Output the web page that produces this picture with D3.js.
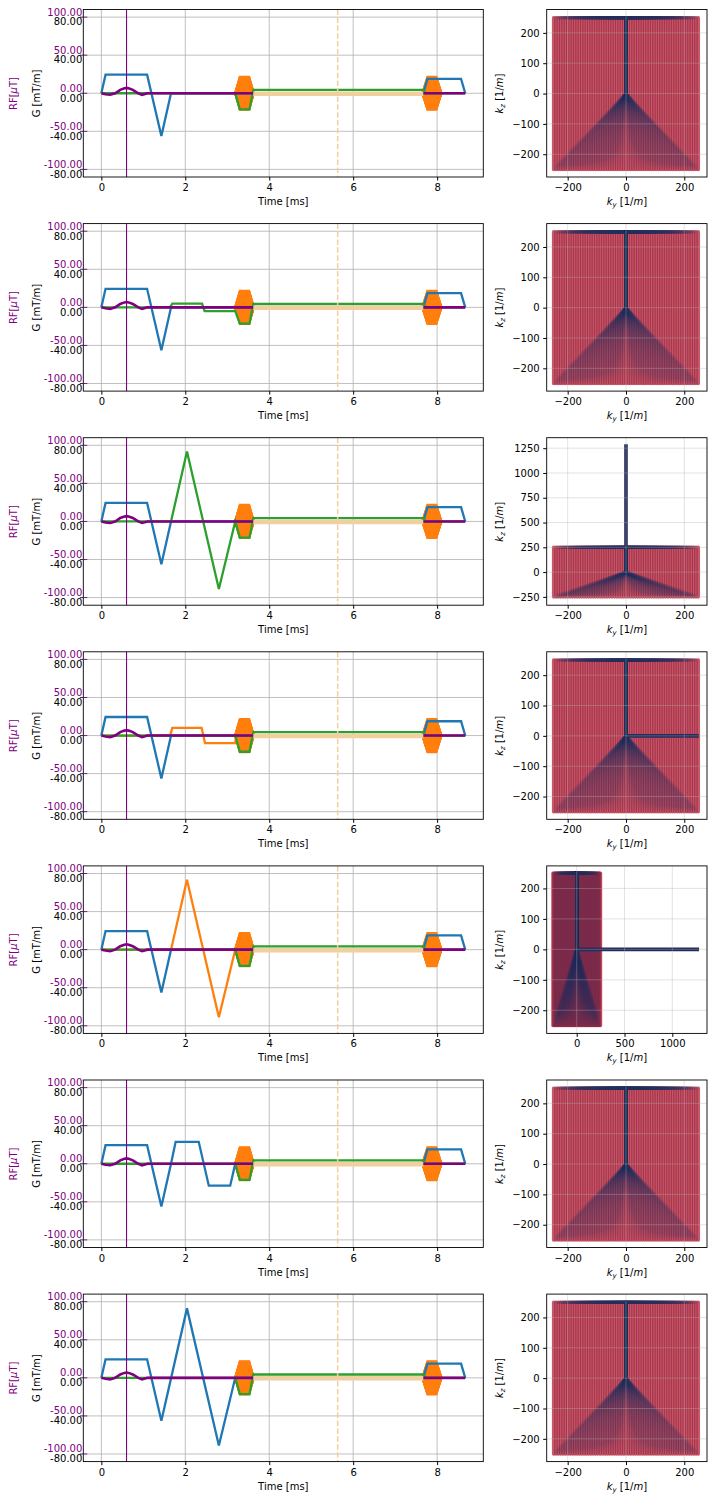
<!DOCTYPE html>
<html>
<head>
<meta charset="utf-8">
<script src="https://cdnjs.cloudflare.com/ajax/libs/d3/7.8.5/d3.min.js"></script>
<style>
body { margin: 0; background: #fff; }
text { font-family: "DejaVu Sans", sans-serif; font-size: 10px; fill: #000; }
</style>
</head>
<body>
<script>
// ---- sequence diagram data ----
var tTicks = [0, 2, 4, 6, 8];
var gTicks = [-80, -40, 0, 40, 80];
var rfTicks = [-100, -50, 0, 50, 100];

// RF pulse, uT (purple twin axis)
var rfTime = [0, 0.1, 0.21, 0.33, 0.45, 0.55, 0.6, 0.65, 0.75, 0.88, 0.97, 1.1, 8.67];
var rfAmp  = [0, -1.2, -2, 0, 4.5, 6.5, 7, 6.5, 4.5, 0, -2, 0, 0];
var rfCenter = 0.6;
var echoTime = 5.63;
var adcWindow = [3.62, 7.67];

// gradient breakpoints [ms, mT/m]
var gxBase = [[0,0],[0.1,19.5],[1.09,19.5],[1.43,-45],[1.66,0],[7.67,0],[7.77,15],[8.57,15],[8.67,0]];
var gxLobe = [[0,0],[0.1,19.5],[1.09,19.5],[1.43,-45],[1.66,0],[1.77,23],[2.32,23],[2.56,-23],[3.07,-23],[3.19,0],[7.67,0],[7.77,15],[8.57,15],[8.67,0]];
var gxTri  = [[0,0],[0.1,19.5],[1.09,19.5],[1.43,-45],[2.04,73],[2.8,-71],[3.19,0],[7.67,0],[7.77,15],[8.57,15],[8.67,0]];
var gzBase = [[0,0],[3.19,0],[3.3,-17],[3.53,-17],[3.62,3.5],[7.67,3.5],[7.73,0],[8.67,0]];
var gzLobe = [[0,0],[1.64,0],[1.69,4],[2.4,4],[2.46,-4],[3.19,-4],[3.3,-17],[3.53,-17],[3.62,3.5],[7.67,3.5],[7.73,0],[8.67,0]];
var gzTri  = [[0,0],[1.66,0],[2.04,73.5],[2.8,-71],[3.19,0],[3.3,-17],[3.53,-17],[3.62,3.5],[7.67,3.5],[7.73,0],[8.67,0]];
var gyLobe = [[0,0],[1.64,0],[1.69,8],[2.39,8],[2.47,-8],[3.19,-8],[3.21,0]];
var gyTri  = [[0,0],[1.66,0],[2.04,73.5],[2.8,-71],[3.19,0]];

// phase encode / rewinder trapezoid corner times
var peTimes = [[3.19, 3.3, 3.52, 3.63], [7.65, 7.77, 7.98, 8.1]];
var peMax = 17.5;

// k-space: phase encode lines and readout span [1/m]
var kyLines = [-248,-240,-232,-224,-216,-208,-200,-192,-184,-176,-168,-160,-152,-144,-136,-128,
  -120,-112,-104,-96,-88,-80,-72,-64,-56,-48,-40,-32,-24,-16,-8,0,8,16,24,32,40,48,56,64,72,80,
  88,96,104,112,120,128,136,144,152,160,168,176,184,192,200,208,216,224,232,240,248];
var kzRead = [-250, 250];

// per-row choices
var gxRows = [gxBase, gxBase, gxBase, gxBase, gxBase, gxLobe, gxTri];
var gzRows = [gzBase, gzLobe, gzTri, gzBase, gzBase, gzBase, gzBase];
var gyRows = [null, null, null, gyLobe, gyTri, null, null];
var kExtra = [null, null, [[0,0],[0,1290]], [[0,0],[250,0]], [[0,0],[1280,0]], null, null];
var kyDomains = [[-272,278],[-272,278],[-272,278],[-272,278],[-314,1363],[-272,278],[-272,278]];
var kzDomains = [[-275,277],[-275,277],[-334,1356],[-275,277],[-276,274],[-275,277],[-275,277]];
var kyTicks = [[-200,0,200],[-200,0,200],[-200,0,200],[-200,0,200],[0,500,1000],[-200,0,200],[-200,0,200]];
var kzTicks = [[-200,-100,0,100,200],[-200,-100,0,100,200],[-250,0,250,500,750,1000,1250],
  [-200,-100,0,100,200],[-200,-100,0,100,200],[-200,-100,0,100,200],[-200,-100,0,100,200]];

var blue = "#1f77b4", orange = "#ff7f0e", green = "#2ca02c", purple = "#800080",
    tan = "#f0cfa0", navy = "#232d5c", red = "#d42c3c";

var svg = d3.select("body").append("svg")
  .attr("width", 712)
  .attr("height", 1503);

var rowStep = 214.1, firstTop = 9.5, panelH = 167.5;
var lx0 = 83.3, lx1 = 483.3, rx0 = 546.7, rx1 = 707;

var x = d3.scaleLinear().domain([-0.43, 9.1]).range([lx0, lx1]);
var peScale = d3.scaleLinear().domain([-250, 250]).range([-peMax, peMax]);
var fmt2 = function(d) { return d.toFixed(2); };

gxRows.forEach(function(gx, r) {
  var top = firstTop + r * rowStep, bot = top + panelH;
  var yG = d3.scaleLinear().domain([-88, 88]).range([bot, top]);
  var yRF = d3.scaleLinear().domain([-110, 110]).range([bot, top]);
  var gline = d3.line().x(function(p) { return x(p[0]); }).y(function(p) { return yG(p[1]); });

  var g = svg.append("g").attr("class", "seq");

  // grid
  g.selectAll(".vg").data(tTicks).enter().append("line")
    .attr("x1", function(d) { return x(d); }).attr("x2", function(d) { return x(d); })
    .attr("y1", top).attr("y2", bot)
    .attr("stroke", "#b0b0b0").attr("stroke-width", 0.8);
  g.selectAll(".hg").data(gTicks).enter().append("line")
    .attr("x1", lx0).attr("x2", lx1)
    .attr("y1", function(d) { return yG(d); }).attr("y2", function(d) { return yG(d); })
    .attr("stroke", "#b0b0b0").attr("stroke-width", 0.8);

  // phase encode blobs
  peTimes.forEach(function(tt) {
    g.append("g").selectAll("path").data(kyLines).enter().append("path")
      .attr("d", function(k) {
        var a = peScale(k);
        return gline([[tt[0],0],[tt[1],a],[tt[2],a],[tt[3],0]]);
      })
      .attr("fill", "none").attr("stroke", orange).attr("stroke-width", 2.2);
  });

  if (gyRows[r]) {
    g.append("path").attr("d", gline(gyRows[r]))
      .attr("fill", "none").attr("stroke", orange).attr("stroke-width", 2.3);
  }
  g.append("path").attr("d", gline(gx))
    .attr("fill", "none").attr("stroke", blue).attr("stroke-width", 2.3);
  g.append("path").attr("d", gline(gzRows[r]))
    .attr("fill", "none").attr("stroke", green).attr("stroke-width", 2.3);

  // RF
  var rfPts = rfTime.map(function(t, i) { return [t, rfAmp[i]]; });
  g.append("path")
    .attr("d", d3.line().x(function(p) { return x(p[0]); }).y(function(p) { return yRF(p[1]); })(rfPts))
    .attr("fill", "none").attr("stroke", purple).attr("stroke-width", 2.6);

  // ADC window
  g.append("line")
    .attr("x1", x(adcWindow[0])).attr("x2", x(adcWindow[1]))
    .attr("y1", yG(0) + 0.5).attr("y2", yG(0) + 0.5)
    .attr("stroke", tan).attr("stroke-width", 4.5);

  g.append("line")
    .attr("x1", x(rfCenter)).attr("x2", x(rfCenter))
    .attr("y1", top).attr("y2", bot)
    .attr("stroke", purple).attr("stroke-width", 1.1);
  g.append("line")
    .attr("x1", x(echoTime)).attr("x2", x(echoTime))
    .attr("y1", top).attr("y2", bot)
    .attr("stroke", tan).attr("stroke-width", 1.5).attr("stroke-dasharray", "5.5,2.4");

  // frame
  g.append("rect").attr("x", lx0).attr("y", top).attr("width", lx1 - lx0).attr("height", panelH)
    .attr("fill", "none").attr("stroke", "#000").attr("stroke-width", 0.9);

  // x axis
  var xa = g.append("g").attr("transform", "translate(0," + bot + ")")
    .call(d3.axisBottom(x).tickValues(tTicks).tickSize(3.5).tickPadding(3.5).tickFormat(d3.format("d")));
  xa.select(".domain").remove();
  xa.selectAll("text").style("font-size", "10px");
  g.append("text").attr("x", (lx0 + lx1) / 2).attr("y", bot + 28)
    .attr("text-anchor", "middle").text("Time [ms]");

  // G axis (black) and RF axis (purple) share the left edge
  g.selectAll(".gt").data(gTicks).enter().append("line")
    .attr("x1", lx0 - 3.5).attr("x2", lx0)
    .attr("y1", function(d) { return yG(d); }).attr("y2", function(d) { return yG(d); })
    .attr("stroke", "#000").attr("stroke-width", 0.8);
  g.selectAll(".gl").data(gTicks).enter().append("text")
    .attr("x", lx0 - 1).attr("y", function(d) { return yG(d) + 8.3; })
    .attr("text-anchor", "end").text(fmt2);
  g.selectAll(".rt").data(rfTicks).enter().append("line")
    .attr("x1", lx0).attr("x2", lx0 + 4)
    .attr("y1", function(d) { return yRF(d); }).attr("y2", function(d) { return yRF(d); })
    .attr("stroke", purple).attr("stroke-width", 0.9);
  g.selectAll(".rl").data(rfTicks).enter().append("text")
    .attr("x", lx0 - 1).attr("y", function(d) { return yRF(d) - 1.5; })
    .attr("text-anchor", "end").style("fill", purple).text(fmt2);

  g.append("text").attr("transform", "translate(40," + (top + 84) + ") rotate(-90)")
    .attr("text-anchor", "middle").text("G [mT/m]");
  var rft = g.append("text").attr("transform", "translate(17," + (top + 84) + ") rotate(-90)")
    .attr("text-anchor", "middle").style("fill", purple);
  rft.append("tspan").text("RF[");
  rft.append("tspan").style("font-style", "italic").text("\u03bc");
  rft.append("tspan").text("T]");

  // ---- k-space panel ----
  var kx = d3.scaleLinear().domain(kyDomains[r]).range([rx0, rx1]);
  var kz = d3.scaleLinear().domain(kzDomains[r]).range([bot, top]);
  var kline = d3.line().x(function(p) { return kx(p[0]); }).y(function(p) { return kz(p[1]); });
  var gk = svg.append("g").attr("class", "kspace");

  gk.selectAll(".adc").data(kyLines).enter().append("line")
    .attr("x1", function(d) { return kx(d); }).attr("x2", function(d) { return kx(d); })
    .attr("y1", kz(kzRead[0])).attr("y2", kz(kzRead[1]))
    .attr("stroke", red).attr("stroke-width", 3.6).attr("stroke-opacity", 0.75)
    .attr("stroke-linecap", "round");

  gk.selectAll(".traj").data(kyLines).enter().append("path")
    .attr("d", function(d) {
      return kline([[0,0],[d,kzRead[0]],[d,kzRead[1]],[0,kzRead[1]],[0,0]]);
    })
    .attr("fill", "none").attr("stroke", navy).attr("stroke-width", 3.2)
    .attr("stroke-opacity", 0.15).attr("stroke-linejoin", "round");

  if (kExtra[r]) {
    gk.append("path").attr("d", kline(kExtra[r]))
      .attr("fill", "none").attr("stroke", navy).attr("stroke-width", 3.6);
  }

  var kxt = kyTicks[r], kzt = kzTicks[r];
  gk.selectAll(".kvg").data(kxt).enter().append("line")
    .attr("x1", function(d) { return kx(d); }).attr("x2", function(d) { return kx(d); })
    .attr("y1", top).attr("y2", bot)
    .attr("stroke", "#b0b0b0").attr("stroke-opacity", 0.45).attr("stroke-width", 0.8);
  gk.selectAll(".khg").data(kzt).enter().append("line")
    .attr("x1", rx0).attr("x2", rx1)
    .attr("y1", function(d) { return kz(d); }).attr("y2", function(d) { return kz(d); })
    .attr("stroke", "#b0b0b0").attr("stroke-opacity", 0.45).attr("stroke-width", 0.8);

  gk.append("rect").attr("x", rx0).attr("y", top).attr("width", rx1 - rx0).attr("height", panelH)
    .attr("fill", "none").attr("stroke", "#000").attr("stroke-width", 0.9);

  var kxa = gk.append("g").attr("transform", "translate(0," + bot + ")")
    .call(d3.axisBottom(kx).tickValues(kxt).tickSize(3.5).tickPadding(3.5).tickFormat(d3.format("d")));
  kxa.select(".domain").remove();
  kxa.selectAll("text").style("font-size", "10px");
  var kya = gk.append("g").attr("transform", "translate(" + rx0 + ",0)")
    .call(d3.axisLeft(kz).tickValues(kzt).tickSize(3.5).tickPadding(3.5).tickFormat(d3.format("d")));
  kya.select(".domain").remove();
  kya.selectAll("text").style("font-size", "10px");

  var xl = gk.append("text").attr("x", (rx0 + rx1) / 2).attr("y", bot + 28)
    .attr("text-anchor", "middle");
  xl.append("tspan").style("font-style", "italic").text("k");
  xl.append("tspan").style("font-style", "italic").style("font-size", "7px").attr("dy", 2).text("y");
  xl.append("tspan").attr("dy", -2).text(" [1/");
  xl.append("tspan").style("font-style", "italic").text("m");
  xl.append("tspan").text("]");

  var yl = gk.append("text").attr("transform", "translate(503," + (top + 84) + ") rotate(-90)")
    .attr("text-anchor", "middle");
  yl.append("tspan").style("font-style", "italic").text("k");
  yl.append("tspan").style("font-style", "italic").style("font-size", "7px").attr("dy", 2).text("z");
  yl.append("tspan").attr("dy", -2).text(" [1/");
  yl.append("tspan").style("font-style", "italic").text("m");
  yl.append("tspan").text("]");
});
</script>
</body>
</html>
